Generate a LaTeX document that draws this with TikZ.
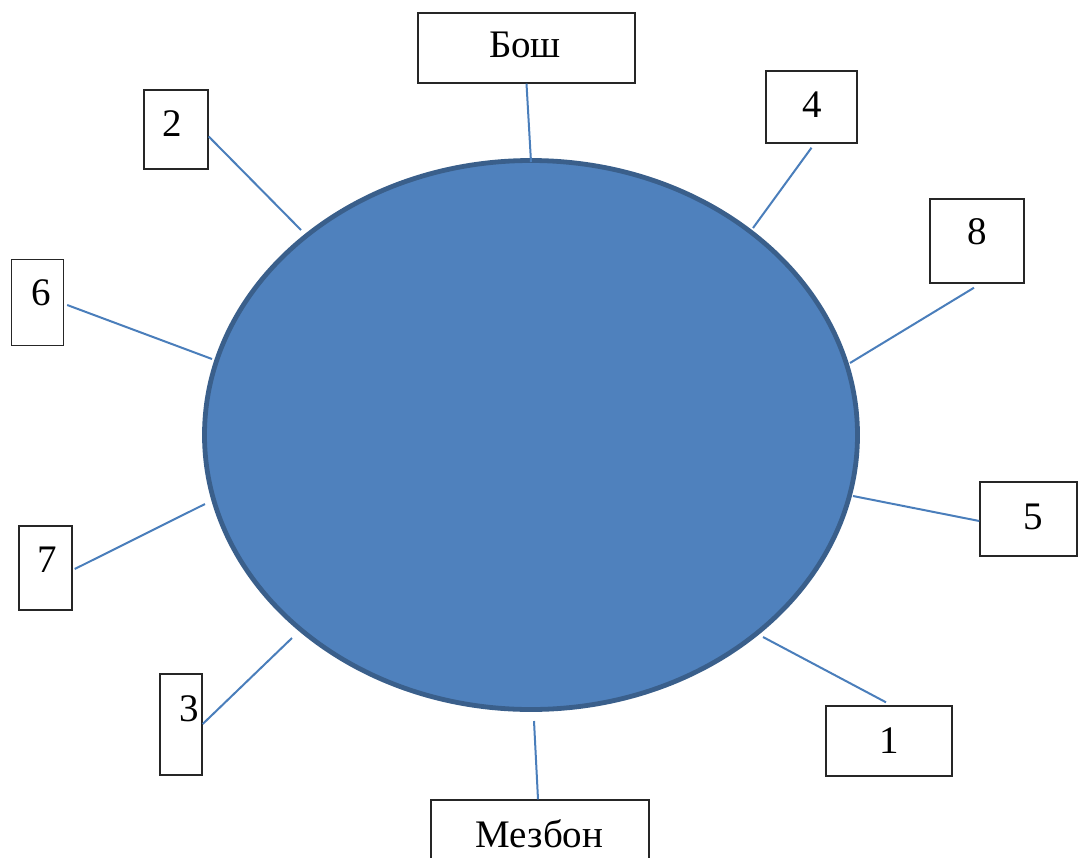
\documentclass[tikz,border=0pt]{standalone}
\usepackage{fontspec}
\setmainfont{Liberation Serif}
\usetikzlibrary{shapes.geometric}
\definecolor{discfill}{HTML}{4F81BD}
\definecolor{discedge}{HTML}{3A5F8B}
\definecolor{linkblue}{HTML}{4A7EBB}
\begin{document}
\begin{tikzpicture}[x=1pt,y=-1pt,
  box/.style={draw=black!85, line width=1.4pt, fill=white, inner sep=0pt},
  lbl/.style={inner sep=0pt, text=black, font=\fontsize{39}{41}\selectfont},
  link/.style={draw=linkblue, line width=2pt}]
\useasboundingbox (0,0) rectangle (1078,857);
\clip (0,0) rectangle (1078,857);

% central disc
\node[ellipse, draw=discedge, fill=discfill, line width=4.8pt, inner sep=0pt,
      minimum width=653, minimum height=549] (disc) at (531,435) {};

% boxes
\node[box, minimum width=217, minimum height=70]  (bosh) at (526.5,48) {};
\node[box, minimum width=64,  minimum height=79]  (b2)   at (176,129.5) {};
\node[box, minimum width=91,  minimum height=72]  (b4)   at (811.5,107) {};
\node[box, minimum width=94,  minimum height=84]  (b8)   at (977,241) {};
\node[box, minimum width=52,  minimum height=86]  (b6)   at (37.5,302.5) {};
\node[box, minimum width=97,  minimum height=74]  (b5)   at (1028.5,519) {};
\node[box, minimum width=53,  minimum height=84]  (b7)   at (45.5,568) {};
\node[box, minimum width=42,  minimum height=101] (b3)   at (181,724.5) {};
\node[box, minimum width=126, minimum height=70]  (b1)   at (889,741) {};
\node[box, minimum width=218, minimum height=70]  (mez)  at (540,835) {};

% labels
\node[lbl] (tbosh) at (525,45)    {Бош};
\node[lbl] (t2)    at (172.5,123.5) {2};
\node[lbl] (t4)    at (812,104.5) {4};
\node[lbl] (t8)    at (977,232)   {8};
\node[lbl] (t6)    at (41,292.5)  {6};
\node[lbl] (t5)    at (1033,516.5) {5};
\node[lbl] (t7)    at (47.5,559.5) {7};
\node[lbl] (t3)    at (189.5,708.5) {3};
\node[lbl] (t1)    at (889,740.5) {1};
\node[lbl] (tmez)  at (539.5,834) {Мезбон};

% ends of the spokes on the disc
\coordinate (eb)  at (531,162);
\coordinate (e2)  at (301,230);
\coordinate (e4)  at (753,228);
\coordinate (e8)  at (850,363);
\coordinate (e6)  at (212,359);
\coordinate (e5)  at (853,496);
\coordinate (e7)  at (205,504);
\coordinate (e3)  at (292,638);
\coordinate (e1)  at (763,637);
\coordinate (em)  at (534,721);

% spokes
\draw[link] (bosh.south) -- (eb);
\draw[link] ([yshift=-7pt]b2.east) -- (e2);
\draw[link] ([yshift=-4pt]b4.south) -- (e4);
\draw[link] ([yshift=-4pt,xshift=-3pt]b8.south) -- (e8);
\draw[link] ([xshift=3pt,yshift=-2.5pt]b6.east) -- (e6);
\draw[link] ([yshift=-2pt]b5.west) -- (e5);
\draw[link] ([xshift=2pt,yshift=-1pt]b7.east) -- (e7);
\draw[link] ([yshift=0.5pt]b3.east) -- (e3);
\draw[link] ([yshift=3pt,xshift=-3pt]b1.north) -- (e1);
\draw[link] ([xshift=-2pt]mez.north) -- (em);
\end{tikzpicture}
\end{document}
